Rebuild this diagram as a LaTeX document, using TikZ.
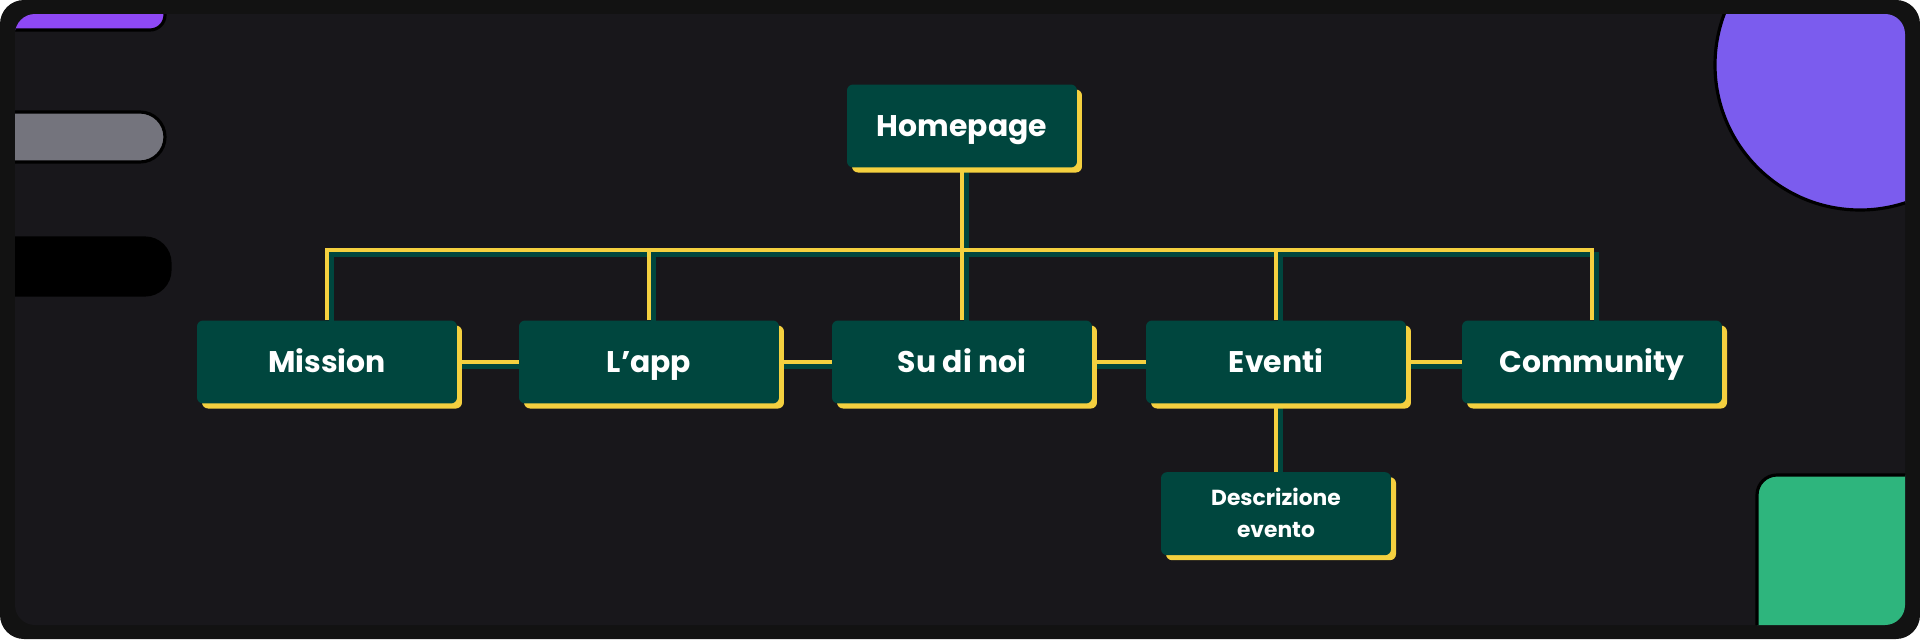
\documentclass[tikz,border=0pt]{standalone}
\usepackage{fontspec}
\setmainfont{Poppins}
\usetikzlibrary{
	positioning,
	shadows,
	backgrounds
}

\definecolor{frameblack}{HTML}{121212}
\definecolor{panelgrey}{HTML}{18171B}
\definecolor{cardteal}{HTML}{00463E}
\definecolor{linkyellow}{HTML}{F4D03F}
\definecolor{decopurple}{HTML}{8E48F5}
\definecolor{decoviolet}{HTML}{7B5CEE}
\definecolor{decogrey}{HTML}{74747D}
\definecolor{decogreen}{HTML}{2EB57D}

\pgfdeclarelayer{links}
\pgfsetlayers{background,links,main}

\begin{document}
\begin{tikzpicture}[
		x=0.02cm, y=-0.02cm,
		card/.style={fill=cardteal, text=white, rounded corners=0.12cm, align=center, minimum width=5.2cm, minimum height=1.66cm, inner sep=0pt, text height=11.9pt, text depth=0pt, font=\bfseries\fontsize{17}{20}\selectfont, general shadow={fill=linkyellow, shadow xshift=2.85pt, shadow yshift=-2.85pt}},
		smallcard/.style={card, minimum width=4.6cm, text height=27.2pt, text depth=0pt, font=\bfseries\fontsize{12.4}{18.5}\selectfont},
		linkshade/.style={draw=cardteal, line width=2.8pt, transform canvas={xshift=2.3pt, yshift=-2.3pt}},
		link/.style={draw=linkyellow, line width=2.8pt},
		deco/.style={draw=black, line width=1.8pt}
		]
		\useasboundingbox (0,0) rectangle (1920,639);
		
		% Frame and corner shapes
		\begin{scope}[on background layer]
			\fill[frameblack, rounded corners=0.48cm] (0,0) rectangle (1920,639);
			\fill[panelgrey, rounded corners=0.4cm] (15,14) rectangle (1905,625);
			\clip[rounded corners=0.4cm] (15,14) rectangle (1905,625);
			\draw[deco, fill=decopurple, rounded corners=0.3cm] (-20,-20) rectangle (165,30);
			\draw[deco, fill=decogrey, rounded corners=0.5cm] (-30,112) rectangle (165,162);
			\draw[deco, fill=black, rounded corners=0.5cm] (-30,238) rectangle (170,295);
			\draw[deco, fill=decoviolet] (1860,65) circle[radius=145];
			\draw[deco, fill=decogreen, rounded corners=0.4cm] (1757,475) rectangle (1960,690);
		\end{scope}
		
		% Pages
		\node[card, minimum width=4.6cm] (home) at (962,126) {Homepage};
		\node[card] (mission) at (327,362) {Mission};
		\node[card] (lapp) at (649,362) {L’app};
		\node[card] (sudinoi) at (962,362) {Su di noi};
		\node[card] (eventi) at (1276,362) {Eventi};
		\node[card] (community) at (1592,362) {Community};
		\node[smallcard, below=1.36cm of eventi] (descr) {Descrizione\\evento};
		
		\coordinate (bus) at (962,250);
		
		% Links (shade first, then yellow)
		\begin{pgfonlayer}{links}
			\foreach \ls in {linkshade, link} {
				\draw[\ls] (mission.north) |- (bus) -| (community.north);
				\draw[\ls] (home) -- (sudinoi);
				\draw[\ls] (lapp.north) -- (lapp.north |- bus);
				\draw[\ls] (eventi.north) -- (eventi.north |- bus);
				\draw[\ls] (mission) -- (lapp);
				\draw[\ls] (lapp) -- (sudinoi);
				\draw[\ls] (sudinoi) -- (eventi);
				\draw[\ls] (eventi) -- (community);
				\draw[\ls] (eventi) -- (descr);
			}
		\end{pgfonlayer}
		
	\end{tikzpicture}
\end{document}
